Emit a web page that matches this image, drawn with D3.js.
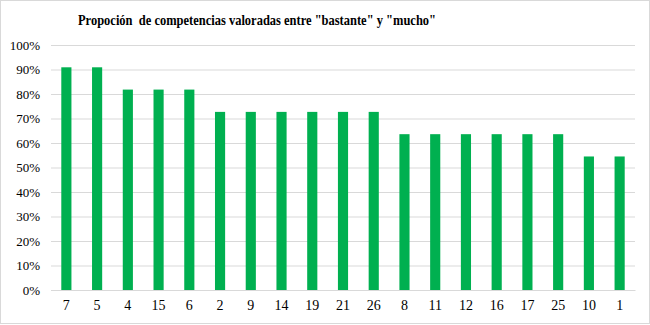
<!DOCTYPE html>
<html>
<head>
<meta charset="utf-8">
<script src="https://cdn.jsdelivr.net/npm/d3@7"></script>
<style>
  html, body { margin: 0; padding: 0; background: #fff; }
  svg { display: block; }
</style>
</head>
<body>
<svg id="chart" width="650" height="325"></svg>
<script>
// Competency IDs, ordered by share of "bastante"/"mucho" ratings
const categories = ["7", "5", "4", "15", "6", "2", "9", "14", "19", "21", "26", "8", "11", "12", "16", "17", "25", "10", "1"];
const values = [0.909, 0.909, 0.818, 0.818, 0.818, 0.727, 0.727, 0.727, 0.727, 0.727, 0.727, 0.636, 0.636, 0.636, 0.636, 0.636, 0.636, 0.545, 0.545];
const yTicks = [0, 0.1, 0.2, 0.3, 0.4, 0.5, 0.6, 0.7, 0.8, 0.9, 1.0];
const title = "Propoción  de competencias valoradas entre \"bastante\" y \"mucho\"";

const W = 650, H = 325;
const margin = { top: 45, right: 15, bottom: 35, left: 51 };
const font = "Liberation Serif, Times New Roman, Times, Noto Serif, DejaVu Serif, serif";

const svg = d3.select("#chart");

// outer frame
svg.append("rect")
  .attr("x", 0.5).attr("y", 0.5)
  .attr("width", W - 1).attr("height", H - 2)
  .attr("fill", "#fff")
  .attr("stroke", "#d9d9d9");

const x = d3.scaleBand()
  .domain(categories)
  .range([margin.left, W - margin.right])
  .paddingInner(0.67)
  .paddingOuter(0.335);

const y = d3.scaleLinear()
  .domain([0, 1])
  .range([H - margin.bottom, margin.top]);

// gridlines + y labels
const yAxis = d3.axisLeft(y)
  .tickValues(yTicks)
  .tickFormat(d3.format(".0%"))
  .tickSize(-(W - margin.right - margin.left))
  .tickPadding(11);

const gy = svg.append("g")
  .attr("transform", `translate(${margin.left},0)`)
  .call(yAxis)
  .attr("font-family", font)
  .attr("font-size", 13);
gy.select(".domain").remove();
gy.selectAll(".tick line").attr("stroke", "#d9d9d9").attr("stroke-width", 1);
gy.selectAll(".tick text").attr("fill", "#000");

// bars
svg.append("g")
  .selectAll("rect")
  .data(values)
  .join("rect")
  .attr("x", (d, i) => x(categories[i]))
  .attr("y", d => y(d))
  .attr("width", x.bandwidth())
  .attr("height", d => y(0) - y(d))
  .attr("fill", "#00b050");

// x axis
const xAxis = d3.axisBottom(x).tickSize(0).tickPadding(10);
const gx = svg.append("g")
  .attr("transform", `translate(0,${H - margin.bottom})`)
  .call(xAxis)
  .attr("font-family", font)
  .attr("font-size", 14);
gx.select(".domain").attr("stroke", "#d9d9d9");
gx.selectAll(".tick text").attr("fill", "#000");

// title, condensed to its fixed width
svg.append("text")
  .attr("x", 257)
  .attr("y", 25)
  .attr("text-anchor", "middle")
  .attr("font-family", font)
  .attr("font-size", 14.5)
  .attr("font-weight", "bold")
  .attr("textLength", 358)
  .attr("lengthAdjust", "spacingAndGlyphs")
  .style("white-space", "pre")
  .text(title);
</script>
</body>
</html>
